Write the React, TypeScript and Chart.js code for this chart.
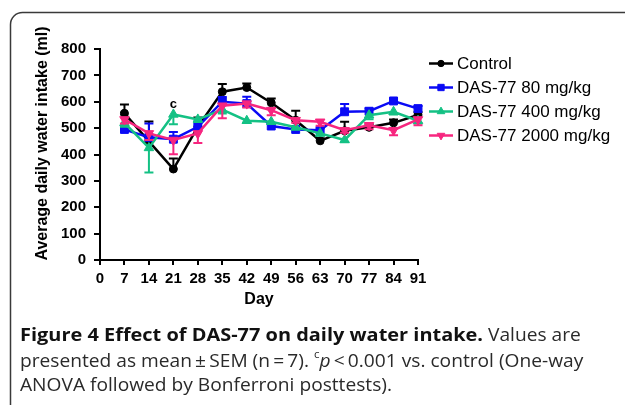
import React, { useEffect, useRef } from 'react';
import { Chart, registerables } from 'chart.js';
import { drawPoint } from 'chart.js/helpers';

Chart.register(...registerables);

// ---- data ----
const days = [7, 14, 21, 28, 35, 42, 49, 56, 63, 70, 77, 84, 91];
const seriesNames = ['Control', 'DAS-77 80 mg/kg', 'DAS-77 400 mg/kg', 'DAS-77 2000 mg/kg'];
const controlMean = [556, 450, 345, 505, 638, 654, 596, 530, 452, 490, 503, 520, 550];
const controlSem = [34, 75, 40, 35, 29, 15, 16, 36, 10, 34, 12, 13, 10];
const dose80Mean = [495, 465, 458, 505, 600, 593, 508, 495, 492, 562, 564, 603, 574];
const dose80Sem = [12, 53, 27, 20, 18, 26, 8, 8, 8, 29, 10, 8, 10];
const dose400Mean = [520, 425, 552, 533, 570, 528, 524, 503, 480, 455, 549, 562, 528];
const dose400Sem = [15, 93, 37, 10, 15, 8, 8, 8, 8, 8, 15, 10, 10];
const dose2000Mean = [533, 480, 455, 480, 585, 593, 568, 530, 524, 492, 511, 492, 533];
const dose2000Sem = [15, 25, 54, 36, 48, 15, 19, 10, 15, 10, 15, 19, 22];
const errorDirection = ['up', 'up', 'down', 'down'];
const xTickStep = 7;
const yTickStep = 100;
const yMax = 800;
const xMax = 91;
const sigMarks = [{ day: 21, series: 2, text: 'c' }];
const yTitle = 'Average daily water intake (ml)';
const xTitle = 'Day';
const captionLines = [
  [
    { t: 'Figure 4 Effect of DAS-77 on daily water intake.', s: 'b' },
    { t: ' Values are', s: 'r' },
  ],
  [
    { t: 'presented as mean\u2009\u00b1\u2009SEM (n\u2009=\u20097). ', s: 'r' },
    { t: 'c', s: 'sup' },
    { t: 'p', s: 'i' },
    { t: '\u2009<\u20090.001 vs. control (One-way', s: 'r' },
  ],
  [{ t: 'ANOVA followed by Bonferroni posttests).', s: 'r' }],
];

const means = [controlMean, dose80Mean, dose400Mean, dose2000Mean];
const sems = [controlSem, dose80Sem, dose400Sem, dose2000Sem];
const colors = ['#000000', '#0a0af5', '#14c184', '#f7267f'];
const pointStyles = ['circle', 'rect', 'triangle', 'triangle'];
const pointRot = [0, 0, 0, 180];
const pointRad = [4, 5.6, 5.5, 5.5];

const AXIS_FONT = '"Liberation Sans", Arial, sans-serif';
const CAP_FONT = '"Open Sans", sans-serif';
const CAP_SIZE = 18.5;

const errorBars = {
  id: 'errorBars',
  beforeDatasetDraw(chart: any, args: any) {
    const i = args.index;
    const ctx = chart.ctx;
    const xs = chart.scales.x;
    const ys = chart.scales.y;
    ctx.save();
    ctx.strokeStyle = colors[i];
    ctx.lineWidth = 2;
    days.forEach((d, k) => {
      const x = xs.getPixelForValue(d);
      const y0 = ys.getPixelForValue(means[i][k]);
      const sign = errorDirection[i] === 'up' ? 1 : -1;
      const y1 = ys.getPixelForValue(means[i][k] + sign * sems[i][k]);
      ctx.beginPath();
      ctx.moveTo(x, y0);
      ctx.lineTo(x, y1);
      ctx.moveTo(x - 4.5, y1);
      ctx.lineTo(x + 4.5, y1);
      ctx.stroke();
    });
    ctx.restore();
  },
};

function fontFor(s: string, size: number) {
  if (s === 'b') return `bold ${size}px ${CAP_FONT}`;
  if (s === 'i') return `italic ${size}px ${CAP_FONT}`;
  if (s === 'sup') return `${size * 0.6}px ${CAP_FONT}`;
  return `${size}px ${CAP_FONT}`;
}

const decorations = {
  id: 'decorations',
  afterDraw(chart: any) {
    const ctx: CanvasRenderingContext2D = chart.ctx;
    const xs = chart.scales.x;
    const ys = chart.scales.y;
    ctx.save();

    // frame
    ctx.strokeStyle = '#3a3a3a';
    ctx.lineWidth = 1.5;
    ctx.beginPath();
    const fx = 10.5, fy = 12.5, r = 12;
    ctx.moveTo(fx, 430);
    ctx.lineTo(fx, fy + r);
    ctx.arcTo(fx, fy, fx + r, fy, r);
    ctx.lineTo(650, fy);
    ctx.stroke();

    // y-axis title
    ctx.fillStyle = '#000';
    ctx.font = `bold 16px ${AXIS_FONT}`;
    ctx.textAlign = 'center';
    ctx.textBaseline = 'middle';
    ctx.save();
    ctx.translate(43, 143.5);
    ctx.rotate(-Math.PI / 2);
    ctx.fillText(yTitle, 0, 0);
    ctx.restore();

    // significance marks
    ctx.font = `bold 13px ${AXIS_FONT}`;
    sigMarks.forEach((m) => {
      const k = days.indexOf(m.day);
      const x = xs.getPixelForValue(m.day);
      const y = ys.getPixelForValue(means[m.series][k]);
      ctx.fillText(m.text, x, y - 10);
    });

    // legend
    const lx0 = 429, lx1 = 453, ly0 = 63.5, lstep = 24;
    seriesNames.forEach((name, i) => {
      const y = ly0 + i * lstep;
      ctx.strokeStyle = colors[i];
      ctx.fillStyle = colors[i];
      ctx.lineWidth = 2.5;
      ctx.beginPath();
      ctx.moveTo(lx0, y);
      ctx.lineTo(lx1, y);
      ctx.stroke();
      ctx.lineWidth = 1;
      drawPoint(ctx, { pointStyle: pointStyles[i], radius: pointRad[i] * 0.8, rotation: pointRot[i], borderWidth: 1 } as any, (lx0 + lx1) / 2, y);
      ctx.fillStyle = '#000';
      ctx.font = `17px ${AXIS_FONT}`;
      ctx.textAlign = 'left';
      ctx.textBaseline = 'middle';
      ctx.fillText(name, 457, y + 1);
    });

    // caption: condense horizontally to match the reference's narrow typeface
    ctx.font = fontFor('r', CAP_SIZE);
    const w3 = ctx.measureText(captionLines[2][0].t).width;
    const sxR = 372 / w3;
    ctx.font = fontFor('b', CAP_SIZE);
    const wb = ctx.measureText(captionLines[0][0].t).width;
    const sxB = 463 / wb;
    const lineY = [336, 361.5, 386];
    ctx.textAlign = 'left';
    ctx.textBaseline = 'middle';
    captionLines.forEach((runs, li) => {
      let x = 20;
      runs.forEach((run) => {
        ctx.font = fontFor(run.s, CAP_SIZE);
        ctx.fillStyle = run.s === 'b' ? '#111' : '#2a2a2a';
        const sx = run.s === 'b' ? sxB : sxR;
        const dy = run.s === 'sup' ? -CAP_SIZE * 0.35 : 0;
        ctx.save();
        ctx.translate(x, lineY[li] + dy);
        ctx.scale(sx, 1);
        ctx.fillText(run.t, 0, 0);
        ctx.restore();
        x += ctx.measureText(run.t).width * sx;
      });
    });
    ctx.restore();
  },
};

export default function App() {
  const ref = useRef<HTMLCanvasElement | null>(null);
  useEffect(() => {
    document.body.style.margin = '0';
    const canvas = ref.current!;
    const tickFont = { family: AXIS_FONT, size: 15, weight: 'bold' as const };
    const chart = new Chart(canvas, {
      type: 'line',
      data: {
        datasets: seriesNames.map((name, i) => ({
          label: name,
          data: days.map((d, k) => ({ x: d, y: means[i][k] })),
          borderColor: colors[i],
          backgroundColor: colors[i],
          borderWidth: 2.5,
          pointStyle: pointStyles[i] as any,
          pointRotation: pointRot[i],
          pointRadius: pointRad[i],
          pointBorderWidth: 1,
          tension: 0,
          clip: false as any,
          order: 3 - i,
        })),
      },
      options: {
        responsive: false,
        animation: false,
        devicePixelRatio: 1,
        layout: { padding: { top: 49, left: 0, right: 207, bottom: 93 } },
        plugins: { legend: { display: false }, tooltip: { enabled: false } },
        scales: {
          x: {
            type: 'linear',
            min: 0,
            max: xMax,
            ticks: { stepSize: xTickStep, color: '#000', font: tickFont, padding: 5, maxRotation: 0, autoSkip: false },
            grid: { drawOnChartArea: false, drawTicks: true, tickLength: 5, color: '#000', lineWidth: 2 },
            border: { display: true, color: '#000', width: 2 },
            title: { display: true, text: xTitle, color: '#000', font: { family: AXIS_FONT, size: 16, weight: 'bold' }, padding: { top: 0, bottom: 3 } },
            afterFit: (s: any) => { s.height = 52; },
          },
          y: {
            type: 'linear',
            min: 0,
            max: yMax,
            ticks: { stepSize: yTickStep, color: '#000', font: tickFont, padding: 8 },
            grid: { drawOnChartArea: false, drawTicks: true, tickLength: 6, color: '#000', lineWidth: 2 },
            border: { display: true, color: '#000', width: 2 },
            afterFit: (s: any) => { s.width = 100; },
          },
        },
      },
      plugins: [errorBars, decorations],
    });
    return () => chart.destroy();
  }, []);
  return (
    <div style={{ position: 'relative', width: 625, height: 405, background: '#fff' }}>
      <canvas ref={ref} width={625} height={405} style={{ display: 'block', width: 625, height: 405 }} />
    </div>
  );
}
